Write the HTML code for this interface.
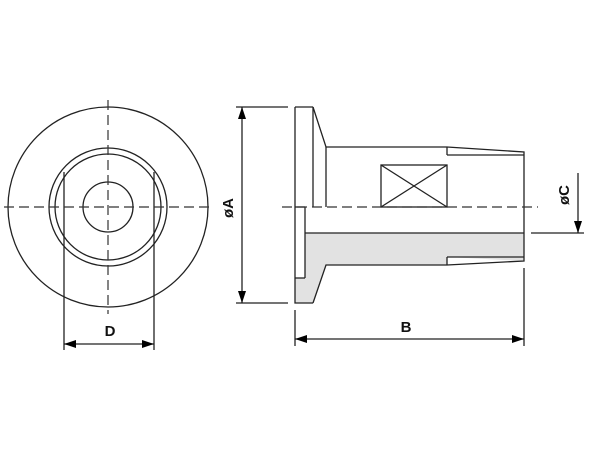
<!DOCTYPE html>
<html><head><style>body{margin:0;background:#fff}</style></head><body>
<svg width="600" height="450" xmlns="http://www.w3.org/2000/svg" style="display:block">
<defs><marker id="a" markerWidth="12" markerHeight="8" refX="12" refY="4" orient="auto-start-reverse" markerUnits="userSpaceOnUse"><path d="M0,0L12,4L0,8z" fill="#000"/></marker></defs>
<g fill="none" stroke="#222" stroke-width="1.3">
<!-- left view -->
<circle cx="108" cy="207" r="100"/>
<circle cx="108" cy="207" r="59"/>
<circle cx="108" cy="207" r="53"/>
<circle cx="108" cy="207" r="25"/>
<line x1="64" y1="172" x2="64" y2="350"/>
<line x1="154" y1="172" x2="154" y2="350"/>
<line x1="64" y1="344" x2="154" y2="344" marker-start="url(#a)" marker-end="url(#a)"/>
<!-- side view -->
<path d="M305,233 L524,233 L524,261 L447,257 L447,265 L326,265 L313,303 L295,303 L295,278 L305,278 Z" fill="#e2e2e2" stroke="none"/>
<polyline points="295,107 295,303 313,303"/>
<line x1="295" y1="107" x2="313" y2="107"/>
<line x1="313" y1="107" x2="313" y2="207"/>
<line x1="295" y1="207" x2="305" y2="207"/>
<line x1="305" y1="207" x2="305" y2="278"/>
<line x1="295" y1="278" x2="305" y2="278"/>
<line x1="305" y1="233" x2="524" y2="233"/>
<polyline points="313,107 326,147 447,147 524,152 524,261 447,265 326,265 313,303"/>
<line x1="326" y1="147" x2="326" y2="207"/>
<line x1="447" y1="147" x2="447" y2="155"/>
<line x1="447" y1="155" x2="524" y2="155"/>
<line x1="447" y1="257" x2="524" y2="257"/>
<line x1="447" y1="257" x2="447" y2="265"/>
<rect x="381" y="165" width="66" height="42"/>
<line x1="381" y1="165" x2="447" y2="207"/>
<line x1="447" y1="165" x2="381" y2="207"/>
<!-- dims -->
<line x1="236" y1="107" x2="288" y2="107"/>
<line x1="236" y1="303" x2="288" y2="303"/>
<line x1="242" y1="107" x2="242" y2="303" marker-start="url(#a)" marker-end="url(#a)"/>
<line x1="531" y1="233" x2="584" y2="233"/>
<line x1="578" y1="173" x2="578" y2="233" marker-end="url(#a)"/>
<line x1="295" y1="310" x2="295" y2="346"/>
<line x1="524" y1="268" x2="524" y2="346"/>
<line x1="295" y1="339" x2="524" y2="339" marker-start="url(#a)" marker-end="url(#a)"/>
</g>
<g stroke="#333" stroke-width="1.2" stroke-dasharray="10,5" fill="none">
<line x1="4" y1="207" x2="214" y2="207"/>
<line x1="108" y1="100" x2="108" y2="314"/>
<line x1="282" y1="207" x2="538" y2="207"/>
</g>
<g font-family="Liberation Sans, sans-serif" font-size="15" font-weight="bold" fill="#111" text-anchor="middle">
<text x="110" y="336">D</text>
<text x="406" y="332">B</text>
<text transform="translate(233,208) rotate(-90)">øA</text>
<text transform="translate(569,195) rotate(-90)">øC</text>
</g>
</svg>
</body></html>
